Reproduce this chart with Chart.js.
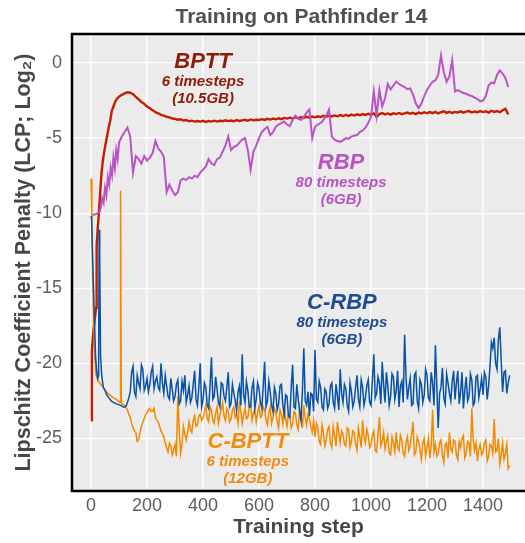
<!DOCTYPE html>
<html>
<head>
<meta charset="utf-8">
<script src="https://cdn.jsdelivr.net/npm/chart.js@4.4.1/dist/chart.umd.min.js"></script>
<style>
    html, body { margin: 0; padding: 0; background: #fff; }
    #wrap { width: 525px; height: 543px; }
</style>
</head>
<body>
<div id="wrap"><canvas id="lcpChart" width="525" height="543"></canvas></div>
<script>
// Marcas de los ejes
const xTicks = [0, 200, 400, 600, 800, 1000, 1200, 1400];
const yTicks = [-25, -20, -15, -10, -5, 0];

// Pasos de entrenamiento (rejilla común cada 10 pasos)
const steps = [
    100, 110, 120, 130, 140, 150, 160, 170, 180, 190,
    200, 210, 220, 230, 240, 250, 260, 270, 280, 290,
    300, 310, 320, 330, 340, 350, 360, 370, 380, 390,
    400, 410, 420, 430, 440, 450, 460, 470, 480, 490,
    500, 510, 520, 530, 540, 550, 560, 570, 580, 590,
    600, 610, 620, 630, 640, 650, 660, 670, 680, 690,
    700, 710, 720, 730, 740, 750, 760, 770, 780, 790,
    800, 810, 820, 830, 840, 850, 860, 870, 880, 890,
    900, 910, 920, 930, 940, 950, 960, 970, 980, 990,
    1000, 1010, 1020, 1030, 1040, 1050, 1060, 1070, 1080, 1090,
    1100, 1110, 1120, 1130, 1140, 1150, 1160, 1170, 1180, 1190,
    1200, 1210, 1220, 1230, 1240, 1250, 1260, 1270, 1280, 1290,
    1300, 1310, 1320, 1330, 1340, 1350, 1360, 1370, 1380, 1390,
    1400, 1410, 1420, 1430, 1440, 1450, 1460, 1470, 1480, 1490
];
// pasos intermedios para las curvas más ruidosas
const midSteps = [
    105, 115, 125, 135, 145, 155, 165, 175, 185, 195,
    205, 215, 225, 235, 245, 255, 265, 275, 285, 295,
    305, 315, 325, 335, 345, 355, 365, 375, 385, 395,
    405, 415, 425, 435, 445, 455, 465, 475, 485, 495,
    505, 515, 525, 535, 545, 555, 565, 575, 585, 595,
    605, 615, 625, 635, 645, 655, 665, 675, 685, 695,
    705, 715, 725, 735, 745, 755, 765, 775, 785, 795,
    805, 815, 825, 835, 845, 855, 865, 875, 885, 895,
    905, 915, 925, 935, 945, 955, 965, 975, 985, 995,
    1005, 1015, 1025, 1035, 1045, 1055, 1065, 1075, 1085, 1095,
    1105, 1115, 1125, 1135, 1145, 1155, 1165, 1175, 1185, 1195,
    1205, 1215, 1225, 1235, 1245, 1255, 1265, 1275, 1285, 1295,
    1305, 1315, 1325, 1335, 1345, 1355, 1365, 1375, 1385, 1395,
    1405, 1415, 1425, 1435, 1445, 1455, 1465, 1475, 1485, 1495
];

// BPTT (6 timesteps)
const bpttEarlySteps = [0, 3, 6, 10, 14, 18, 20, 24, 28, 33, 38, 43, 48, 53, 58, 63, 68, 74, 80, 86, 92];
const bpttEarly = [-23.8, -19.2, -18.4, -17.6, -16.9, -16.3, -12.2, -11.0, -10.0, -8.5, -7.2, -6.4, -5.8, -5.3, -4.8, -4.3, -3.9, -3.2, -2.9, -2.6, -2.4];
const bptt = [
    -2.25, -2.12, -2.02, -1.95, -1.98, -2.08, -2.25, -2.42, -2.6, -2.72,
    -2.9, -3.02, -3.15, -3.28, -3.35, -3.45, -3.5, -3.58, -3.62, -3.7,
    -3.72, -3.78, -3.75, -3.83, -3.8, -3.88, -3.84, -3.9, -3.86, -3.9,
    -3.85, -3.92, -3.86, -3.9, -3.84, -3.9, -3.85, -3.88, -3.82, -3.87,
    -3.83, -3.88, -3.8, -3.86, -3.82, -3.78, -3.85, -3.76, -3.82, -3.78,
    -3.8, -3.74, -3.79, -3.72, -3.77, -3.7, -3.75, -3.68, -3.74, -3.66,
    -3.7, -3.64, -3.7, -3.62, -3.68, -3.6, -3.66, -3.58, -3.64, -3.57,
    -3.62, -3.55, -3.6, -3.52, -3.58, -3.5, -3.56, -3.49, -3.55, -3.47,
    -3.53, -3.46, -3.52, -3.44, -3.5, -3.42, -3.48, -3.4, -3.46, -3.38,
    -3.44, -3.36, -3.58, -3.4, -3.34, -3.42, -3.36, -3.44, -3.35, -3.4,
    -3.33, -3.41, -3.35, -3.3, -3.38, -3.32, -3.4, -3.3, -3.36, -3.28,
    -3.35, -3.27, -3.34, -3.26, -3.36, -3.28, -3.22, -3.32, -3.25, -3.33,
    -3.26, -3.3, -3.22, -3.31, -3.24, -3.2, -3.3, -3.23, -3.28, -3.2,
    -3.27, -3.22, -3.3, -3.18, -3.26, -3.2, -3.28, -3.15, -3.05, -3.42
];

// RBP (80 timesteps)
const rbpEarlySteps = [0, 10, 20, 30, 35, 40, 45, 50, 55, 60, 65, 70, 75, 80, 85, 90, 95];
const rbpEarly = [-10.1, -10.1, -10.05, -9.95, -9.6, -9.0, -9.3, -8.3, -8.8, -7.6, -8.1, -7.0, -7.5, -6.3, -7.0, -5.8, -6.4];
const rbp = [
    -5.3, -4.9, -4.6, -4.3, -4.9, -7.3, -6.2, -6.4, -6.7, -6.2,
    -6.5, -6.3, -6.0, -5.2, -5.7, -5.9, -6.25, -8.6, -8.1, -8.5,
    -8.8, -8.6, -7.8, -7.7, -7.8, -7.6, -7.7, -7.5, -7.6, -7.3,
    -7.1, -6.9, -6.4, -6.7, -6.8, -6.4, -6.3, -5.9, -5.5, -4.9,
    -5.8, -5.6, -5.5, -5.3, -5.1, -5.0, -5.8, -7.1, -5.9, -5.5,
    -5.0, -4.6, -4.4, -4.25, -4.8, -4.6, -4.25, -4.1, -4.0, -3.9,
    -4.1, -4.2, -3.8, -3.5, -3.7, -3.8, -3.6, -3.3, -3.1, -5.0,
    -4.25, -4.1, -4.0, -3.8, -3.5, -3.1, -4.9, -5.1, -5.2, -5.25,
    -5.15, -5.0, -5.05, -4.9, -4.85, -4.8, -4.6, -4.5, -4.3, -4.0,
    -3.6, -1.9, -3.5, -1.8, -2.9, -2.35, -1.4, -1.75, -1.5, -1.25,
    -1.4, -1.5, -1.6, -1.75, -1.7, -2.1, -2.7, -3.0, -2.7, -2.2,
    -1.8, -1.5, -1.25, -1.15, -0.8, 0.5, -0.6, -1.25, -0.9, 0.2,
    -1.9, -1.8, -1.9, -2.0, -2.05, -2.15, -2.2, -2.3, -2.4, -2.55,
    -2.5, -2.2, -1.5, -1.3, -1.35, -0.8, -0.5, -0.7, -1.0, -1.6
];

// C-RBP (80 timesteps)
const crbpEarlySteps = [0, 2, 5, 8, 12, 16, 20, 24, 27, 29, 31, 34, 38, 44, 50, 56, 64, 72, 80, 90];
const crbpEarly = [-10.2, -10.4, -12.5, -14.5, -17.0, -19.5, -20.5, -21.0, -20.8, -11.1, -13.0, -19.5, -20.8, -21.6, -21.8, -22.1, -22.3, -22.5, -22.6, -22.7];
const crbp = [
    -22.75, -22.85, -22.9, -22.6, -21.9, -20.2, -22.2, -21.3, -20.1, -21.8,
    -21.0, -21.4, -20.2, -21.2, -21.6, -20.0, -22.0, -21.5, -22.4, -21.7,
    -22.2, -21.1, -22.5, -21.8, -22.6, -21.5, -22.3, -20.5, -22.8, -20.0,
    -22.4, -21.6, -23.0, -19.6, -22.2, -21.7, -22.9, -21.4, -22.5, -20.6,
    -22.7, -22.0, -23.1, -21.5, -19.4, -22.6, -21.8, -22.9, -21.2, -22.4,
    -21.7, -23.0, -19.9, -22.5, -21.9, -23.2, -22.0, -22.7, -21.4, -23.4,
    -22.2, -23.6, -20.1, -23.0, -22.4, -23.8, -19.0, -22.8, -23.5, -22.1,
    -19.1, -22.6, -21.6, -23.1, -21.9, -22.7, -21.3, -23.0, -22.2, -20.4,
    -22.6, -21.7, -23.2, -21.9, -22.5, -20.8, -22.9, -21.6, -22.3, -21.1,
    -22.8, -19.4, -22.0, -21.3, -19.9, -22.6, -21.5, -22.2, -20.9, -21.8,
    -22.9, -21.2, -18.1, -22.4, -21.0, -22.7, -20.6, -23.0, -21.4, -22.1,
    -20.8, -22.5, -21.3, -18.8, -24.3, -21.6, -22.3, -20.7, -22.0, -21.2,
    -22.4, -20.5, -21.9, -23.0, -20.9, -22.2, -21.1, -22.6, -20.8, -21.7,
    -22.1, -20.9, -21.5, -18.6, -18.3, -20.4, -17.6, -21.9, -20.5, -21.3
];
const crbpMid = [
    -22.8, -22.9, -22.85, -22.3, -20.6, -21.9, -20.8, -21.7, -20.4, -21.5,
    -21.9, -20.6, -21.7, -20.9, -21.8, -21.3, -20.8, -22.2, -21.0, -22.5,
    -21.4, -22.7, -21.2, -20.8, -22.1, -22.6, -21.4, -22.4, -21.6, -22.9,
    -21.3, -22.8, -21.5, -22.4, -20.9, -22.6, -21.3, -22.2, -21.6, -22.9,
    -21.4, -22.5, -21.9, -22.8, -22.1, -21.2, -22.9, -21.6, -23.0, -21.3,
    -22.6, -21.5, -22.9, -21.2, -22.8, -21.6, -23.1, -21.5, -22.8, -22.1,
    -23.5, -21.6, -22.9, -21.4, -23.2, -21.8, -22.5, -21.9, -22.0, -23.2,
    -22.4, -21.2, -22.9, -21.7, -23.0, -21.5, -22.6, -21.4, -23.1, -22.0,
    -21.4, -22.8, -21.3, -22.9, -21.6, -22.4, -21.1, -22.8, -21.5, -22.6,
    -21.1, -22.3, -20.9, -22.7, -21.4, -20.6, -22.8, -20.7, -22.4, -20.5,
    -21.5, -22.6, -20.9, -21.6, -22.8, -20.8, -22.5, -21.1, -22.6, -20.4,
    -22.3, -20.6, -22.8, -21.5, -22.0, -20.3, -22.7, -21.3, -22.5, -20.5,
    -21.3, -22.7, -20.6, -21.8, -22.5, -20.7, -22.8, -20.9, -22.3, -21.0,
    -20.6, -22.4, -20.2, -19.0, -20.0, -18.4, -19.8, -20.6, -22.0, -20.8
];

// C-BPTT (6 timesteps)
const cbpttEarlySteps = [0, 3, 6, 9, 13, 18, 24, 30, 40, 50, 60, 70, 80, 90, 104, 106, 108];
const cbpttEarly = [-7.7, -10.5, -14.5, -17.0, -19.5, -20.8, -21.1, -21.3, -21.5, -21.8, -22.0, -22.15, -22.3, -22.4, -22.6, -8.5, -22.5];
const cbptt = [
    -22.55, -22.7, -22.8, -23.1, -23.6, -24.3, -24.6, -25.1, -24.2, -23.7,
    -23.3, -23.0, -23.2, -23.6, -23.9, -24.5, -24.9, -25.6, -25.3, -26.1,
    -25.4, -22.2, -26.0, -24.2, -25.1, -23.9, -24.6, -23.5, -24.1, -23.4,
    -23.6, -22.8, -23.9, -23.1, -24.0, -22.9, -23.5, -22.6, -23.8, -23.2,
    -23.7, -22.9, -23.4, -22.5, -24.0, -23.0, -23.6, -22.7, -23.3, -23.9,
    -22.8, -23.5, -23.1, -24.1, -22.9, -23.6, -23.2, -24.3, -23.4, -22.9,
    -24.2, -23.5, -24.0, -23.3, -24.4, -23.6, -22.8, -24.1, -23.7, -24.6,
    -24.9, -24.3, -25.4, -24.6, -25.1, -24.2, -25.6, -24.8, -23.9, -25.3,
    -24.7, -25.5, -24.4, -25.2, -24.6, -25.8, -24.9, -23.8, -25.3, -24.8,
    -25.4, -24.5, -25.9, -23.6, -25.2, -25.7, -24.8, -26.1, -25.3, -24.6,
    -25.8, -25.1, -26.2, -24.9, -25.5, -23.9, -25.9, -25.2, -26.4, -25.0,
    -25.6, -26.3, -23.1, -25.4, -26.0, -25.1, -26.6, -25.3, -24.6, -25.9,
    -25.2, -26.4, -25.6, -24.8, -26.0, -25.3, -23.0, -25.8, -26.5, -25.4,
    -25.9, -25.1, -26.2, -25.5, -23.7, -25.8, -26.7, -25.3, -26.0, -27.0
];
const cbpttMid = [
    -22.6, -22.75, -22.95, -23.4, -24.0, -24.5, -25.2, -24.6, -23.9, -23.4,
    -23.1, -23.2, -23.0, -23.8, -24.2, -24.7, -25.3, -25.9, -25.5, -25.8,
    -26.2, -24.4, -25.4, -24.7, -24.6, -24.4, -23.8, -24.2, -23.5, -23.8,
    -23.2, -23.7, -22.9, -23.8, -23.3, -24.0, -23.1, -23.5, -23.0, -23.9,
    -23.1, -23.6, -24.0, -23.2, -23.4, -23.7, -22.9, -23.8, -23.1, -23.3,
    -23.6, -22.9, -23.8, -23.3, -24.0, -23.0, -23.9, -23.1, -24.0, -23.7,
    -23.4, -24.3, -23.2, -24.1, -23.0, -24.3, -23.6, -23.4, -24.2, -23.8,
    -24.0, -25.2, -24.1, -25.5, -24.4, -25.3, -24.2, -25.5, -24.6, -24.5,
    -25.4, -24.3, -25.6, -24.5, -25.4, -24.3, -25.6, -24.9, -24.4, -25.6,
    -24.8, -25.8, -24.7, -25.5, -24.6, -25.2, -26.0, -24.9, -25.9, -25.6,
    -24.8, -26.0, -25.3, -25.8, -24.7, -26.1, -24.9, -25.8, -25.3, -26.2,
    -25.0, -25.5, -25.9, -26.2, -25.3, -26.1, -25.4, -26.3, -25.7, -25.1,
    -26.1, -25.2, -25.0, -26.3, -25.2, -26.2, -25.1, -25.3, -25.7, -26.1,
    -25.3, -26.5, -25.4, -26.0, -25.9, -25.0, -26.1, -26.4, -25.4, -26.8
];

const FONT = "'Liberation Sans', Arial, Helvetica, sans-serif";

// Etiquetas dentro del panel (ancla en coordenadas de datos)
const seriesLabels = [
    { lines: ['BPTT', '6 timesteps', '(10.5GB)'], step: 400, value: 0.05, color: '#8e1a08' },
    { lines: ['RBP', '80 timesteps', '(6GB)'], step: 893, value: -6.67, color: '#b952c3' },
    { lines: ['C-RBP', '80 timesteps', '(6GB)'], step: 896, value: -16.0, color: '#1d4c8e' },
    { lines: ['C-BPTT', '6 timesteps', '(12GB)'], step: 560, value: -25.2, color: '#f08c12' }
];

// junta varios pares (pasos, valores) y los ordena por paso
function toPoints(parts) {
    const pts = [];
    parts.forEach(([xs, ys]) => {
        xs.forEach((s, i) => pts.push({ x: s, y: ys[i] }));
    });
    return pts.sort((a, b) => a.x - b.x);
}

const panelPlugin = {
    id: 'panel',
    beforeDraw(chart) {
        const { ctx, chartArea: a } = chart;
        ctx.save();
        ctx.fillStyle = '#ebebeb';
        ctx.fillRect(a.left, a.top, a.right - a.left, a.bottom - a.top);
        ctx.restore();
    },
    afterDraw(chart) {
        const { ctx, chartArea: a, scales } = chart;
        ctx.save();
        // marco negro (izquierda, arriba, abajo)
        ctx.strokeStyle = '#000';
        ctx.lineWidth = 2.5;
        ctx.beginPath();
        ctx.moveTo(a.right + 2, a.top);
        ctx.lineTo(a.left, a.top);
        ctx.lineTo(a.left, a.bottom);
        ctx.lineTo(a.right + 2, a.bottom);
        ctx.stroke();

        // título
        ctx.textAlign = 'center';
        ctx.textBaseline = 'middle';
        ctx.fillStyle = '#4d4f53';
        ctx.font = 'bold 21px ' + FONT;
        ctx.fillText('Training on Pathfinder 14', (a.left + a.right) / 2 + 3, 17);

        // etiquetas de series
        seriesLabels.forEach(lab => {
            const x = scales.x.getPixelForValue(lab.step);
            const y = scales.y.getPixelForValue(lab.value);
            ctx.fillStyle = lab.color;
            ctx.font = 'italic bold 22px ' + FONT;
            ctx.fillText(lab.lines[0], x, y);
            ctx.font = 'italic bold 15px ' + FONT;
            ctx.fillText(lab.lines[1], x, y + 20);
            ctx.fillText(lab.lines[2], x, y + 37);
        });
        ctx.restore();
    }
};

function makeSet(label, pts, color, order, width) {
    return {
        label: label,
        data: pts,
        borderColor: color,
        borderWidth: width,
        pointRadius: 0,
        tension: 0,
        fill: false,
        order: order
    };
}

const ctx = document.getElementById('lcpChart').getContext('2d');
new Chart(ctx, {
    type: 'line',
    data: {
        datasets: [
            makeSet('BPTT', toPoints([[bpttEarlySteps, bpttEarly], [steps, bptt]]), '#c41d00', 4, 2.4),
            makeSet('RBP', toPoints([[rbpEarlySteps, rbpEarly], [steps, rbp]]), '#bb52c6', 3, 2),
            makeSet('C-BPTT', toPoints([[cbpttEarlySteps, cbpttEarly], [steps, cbptt], [midSteps, cbpttMid]]), '#f28a00', 2, 1.5),
            makeSet('C-RBP', toPoints([[crbpEarlySteps, crbpEarly], [steps, crbp], [midSteps, crbpMid]]), '#0852a6', 1, 1.5)
        ]
    },
    options: {
        responsive: false,
        animation: false,
        layout: { padding: { top: 34, left: 0, right: 0, bottom: 0 } },
        plugins: {
            legend: { display: false },
            tooltip: { enabled: false }
        },
        scales: {
            x: {
                type: 'linear',
                min: -68,
                max: 1550,
                afterFit: s => { s.height = 52; },
                afterBuildTicks: s => { s.ticks = xTicks.map(v => ({ value: v })); },
                grid: { color: '#ffffff', lineWidth: 1.3, drawTicks: false },
                border: { display: false },
                ticks: {
                    padding: 4,
                    maxRotation: 0,
                    autoSkip: false,
                    color: '#5a5c60',
                    font: { family: FONT, size: 18 },
                    callback: v => String(v)
                },
                title: {
                    display: true,
                    text: 'Training step',
                    color: '#45474b',
                    font: { family: FONT, size: 21, weight: 'bold' },
                    padding: { top: 0, bottom: 3 }
                }
            },
            y: {
                min: -28.5,
                max: 1.93,
                afterFit: s => { s.width = 72; },
                afterBuildTicks: s => { s.ticks = yTicks.map(v => ({ value: v })); },
                grid: { color: '#ffffff', lineWidth: 1.3, drawTicks: false },
                border: { display: false },
                ticks: {
                    padding: 10,
                    autoSkip: false,
                    color: '#5a5c60',
                    font: { family: FONT, size: 18 },
                    callback: v => String(v)
                },
                title: {
                    display: true,
                    text: 'Lipschitz Coefficient Penalty (LCP; Log\u2082)',
                    color: '#45474b',
                    font: { family: FONT, size: 21.5, weight: 'bold' },
                    padding: { top: 11, bottom: 0 }
                }
            }
        }
    },
    plugins: [panelPlugin]
});
</script>
</body>
</html>
